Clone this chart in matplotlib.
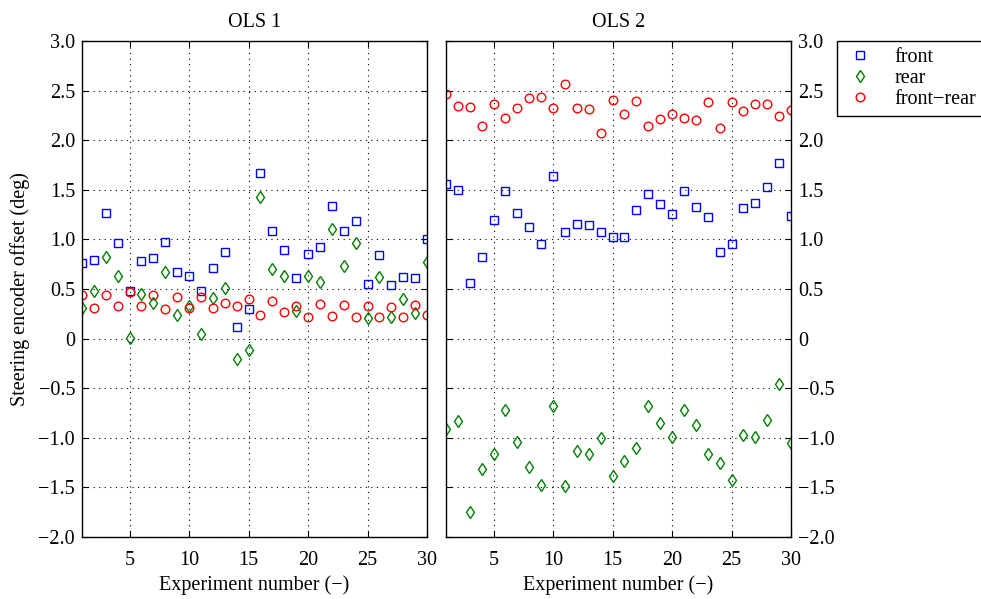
import numpy as np
import matplotlib
matplotlib.use('Agg')
from matplotlib import pyplot as plt
from matplotlib.ticker import FuncFormatter

# Estimated steering encoder offsets (deg) per experiment, two OLS fits
experiments = list(range(1, 31))

ols1_front = [0.76, 0.79, 1.27, 0.96, 0.48, 0.78, 0.81, 0.97, 0.67, 0.63,
              0.48, 0.71, 0.87, 0.12, 0.30, 1.67, 1.08, 0.89, 0.61, 0.85,
              0.92, 1.34, 1.08, 1.19, 0.55, 0.84, 0.54, 0.62, 0.61, 1.00]
ols1_rear = [0.31, 0.48, 0.82, 0.63, 0.01, 0.45, 0.36, 0.67, 0.24, 0.33,
             0.05, 0.41, 0.51, -0.21, -0.11, 1.43, 0.70, 0.63, 0.28, 0.63,
             0.57, 1.10, 0.73, 0.96, 0.21, 0.62, 0.22, 0.40, 0.26, 0.77]
ols1_diff = [0.44, 0.31, 0.44, 0.33, 0.47, 0.33, 0.44, 0.30, 0.42, 0.31,
             0.42, 0.31, 0.36, 0.33, 0.40, 0.24, 0.38, 0.27, 0.33, 0.22,
             0.35, 0.23, 0.34, 0.22, 0.33, 0.22, 0.32, 0.22, 0.34, 0.24]

ols2_front = [1.56, 1.50, 0.56, 0.82, 1.20, 1.49, 1.27, 1.13, 0.95, 1.64,
              1.07, 1.16, 1.15, 1.07, 1.02, 1.02, 1.30, 1.46, 1.36, 1.26,
              1.49, 1.33, 1.23, 0.87, 0.95, 1.32, 1.37, 1.53, 1.77, 1.24]
ols2_rear = [-0.91, -0.83, -1.75, -1.31, -1.16, -0.72, -1.04, -1.29, -1.48, -0.68,
             -1.49, -1.13, -1.16, -1.00, -1.39, -1.23, -1.10, -0.68, -0.85, -0.99,
             -0.72, -0.87, -1.16, -1.25, -1.43, -0.97, -0.99, -0.82, -0.46, -1.05]
ols2_diff = [2.47, 2.34, 2.33, 2.14, 2.36, 2.22, 2.32, 2.43, 2.44, 2.32,
             2.57, 2.32, 2.31, 2.07, 2.41, 2.26, 2.40, 2.14, 2.21, 2.26,
             2.22, 2.20, 2.39, 2.12, 2.39, 2.29, 2.36, 2.36, 2.24, 2.30]

titles = ['OLS 1', 'OLS 2']
series = [(ols1_front, ols1_rear, ols1_diff), (ols2_front, ols2_rear, ols2_diff)]

plt.rcParams['font.family'] = ['Liberation Serif', 'DejaVu Serif']
FS = 14.5

fig = plt.figure(figsize=(9.81, 5.99), dpi=100)
W, H = 981.0, 599.0
# two panels side by side, sharing the y range
ax1 = fig.add_axes([82 / W, 62 / H, 345 / W, 496 / H])
ax2 = fig.add_axes([446 / W, 62 / H, 345 / W, 496 / H])


def fmt(v, pos):
    if abs(v) < 1e-9:
        return '0'
    return ('%.1f' % v).replace('-', '\u2212')


handles = None
for ax, title, (front, rear, diff) in zip([ax1, ax2], titles, series):
    h1, = ax.plot(experiments, front, 's', mfc='none', mec='#0000ff', ms=5.3, mew=1.0, label='front')
    h2, = ax.plot(experiments, rear, 'd', mfc='none', mec='#008000', ms=6.6, mew=1.0, label='rear')
    h3, = ax.plot(experiments, diff, 'o', mfc='none', mec='#ff0000', ms=6.2, mew=1.0, label='front\u2212rear')
    handles = [h1, h2, h3]
    ax.set_xlim(1, 30)
    ax.set_ylim(-2.0, 3.0)
    ax.set_xticks([5, 10, 15, 20, 25, 30])
    ax.set_yticks(np.arange(-2.0, 3.01, 0.5))
    ax.yaxis.set_major_formatter(FuncFormatter(fmt))
    ax.grid(True, color='black', linestyle=(0, (1, 4)), linewidth=0.8)
    ax.tick_params(direction='in', length=4, width=0.8, top=True, right=True,
                   labelsize=FS, pad=5)
    ax.tick_params(axis='x', pad=10)
    for s in ax.spines.values():
        s.set_linewidth(1.0)
    ax.set_title(title, fontsize=FS, pad=10)
    ax.set_xlabel('Experiment number (\u2212)', fontsize=FS, labelpad=4)

ax1.set_ylabel('Steering encoder offset (deg)', fontsize=FS, labelpad=6)
ax2.tick_params(labelleft=False, labelright=True)

leg = fig.legend(handles, ['front', 'rear', 'front\u2212rear'],
                 loc='upper left', bbox_to_anchor=(837 / W, 1 - 41 / H),
                 fancybox=False, edgecolor='black', framealpha=1,
                 fontsize=FS, handlelength=1.6, borderaxespad=0,
                 labelspacing=0.1, handletextpad=0.9, borderpad=0.35)
leg.get_frame().set_linewidth(1.0)

fig.savefig('out.png', dpi=100)
